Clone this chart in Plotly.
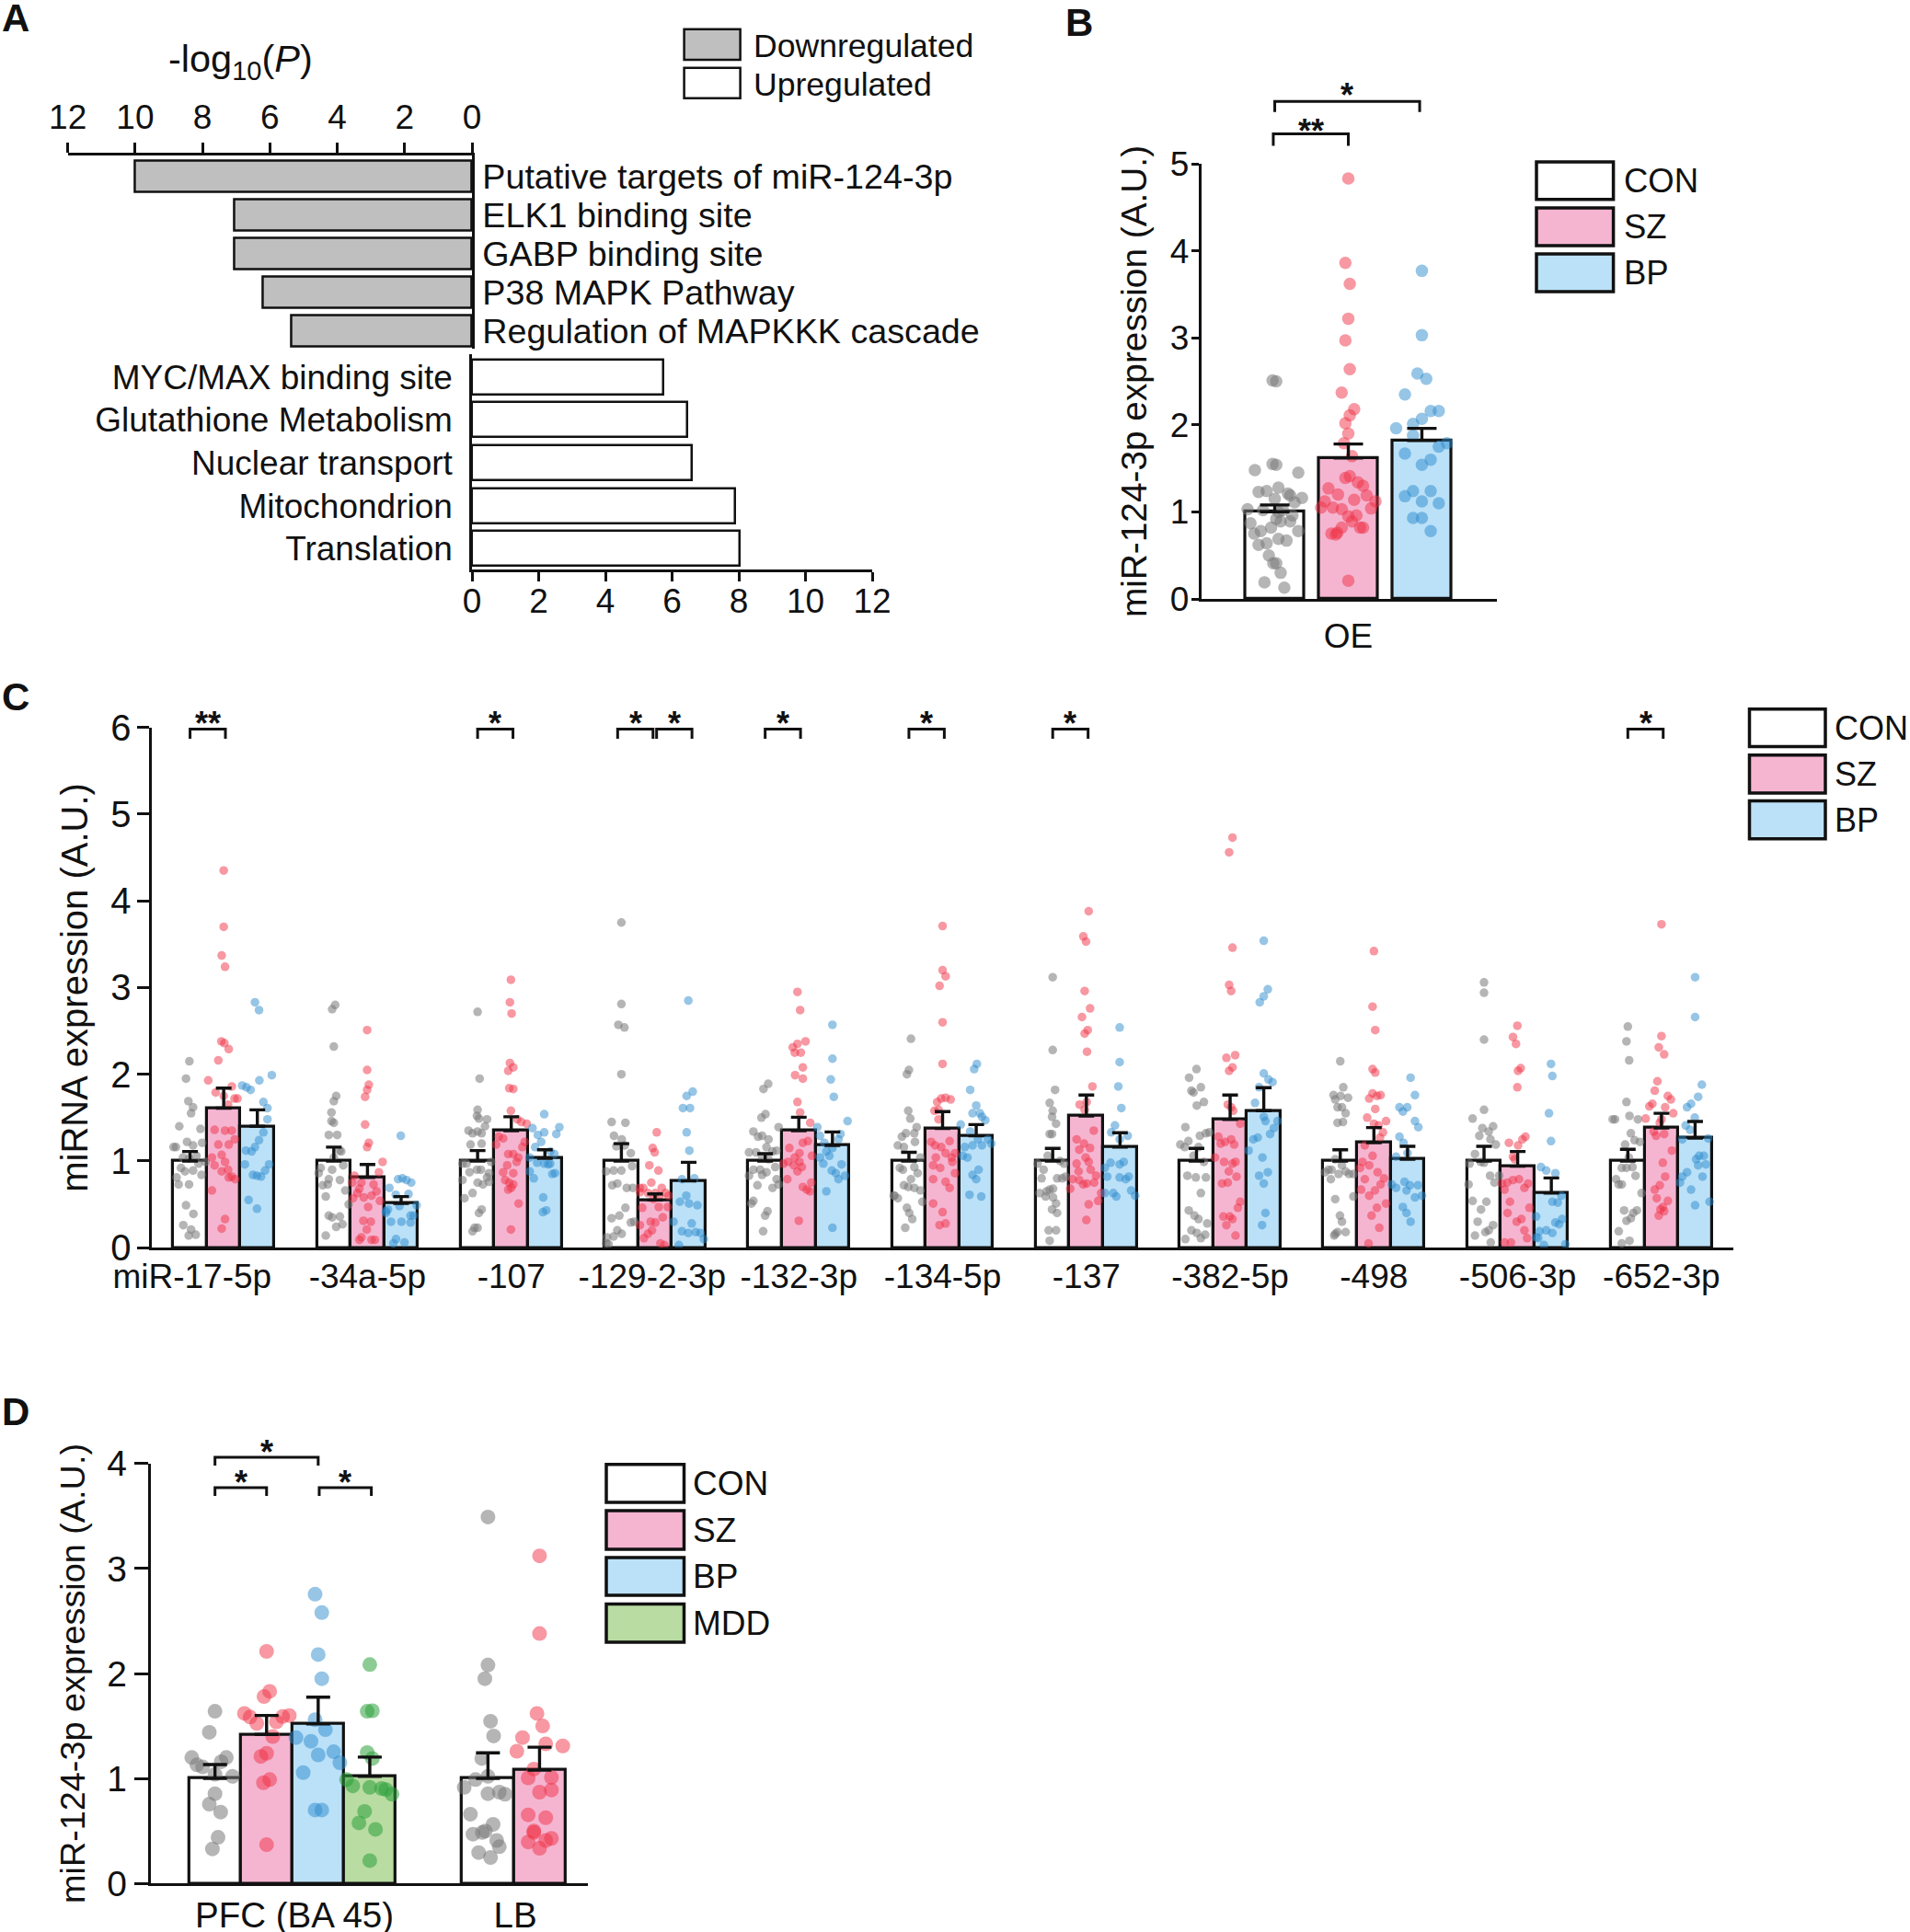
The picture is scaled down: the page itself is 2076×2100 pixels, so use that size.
import plotly.graph_objects as go

W, H = 2076, 2100
FONT = "Liberation Sans"
INK = "#111111"
FILL = {"CON": "#ffffff", "SZ": "#f5b5d1", "BP": "#bbe1f8", "MDD": "#b8dca2"}
DOT = {"CON": "rgba(120,120,120,0.55)", "SZ": "rgba(240,50,70,0.50)",
       "BP": "rgba(45,140,205,0.50)", "MDD": "rgba(45,160,60,0.55)"}

# ---------- Panel A ----------
A_DOWN_TERMS = ["Putative targets of miR-124-3p", "ELK1 binding site", "GABP binding site",
                "P38 MAPK Pathway", "Regulation of MAPKKK cascade"]
A_DOWN_VALUES = [10.0, 7.05, 7.05, 6.2, 5.35]
A_UP_TERMS = ["MYC/MAX binding site", "Glutathione Metabolism", "Nuclear transport",
              "Mitochondrion", "Translation"]
A_UP_VALUES = [5.75, 6.45, 6.6, 7.9, 8.03]

# ---------- Panel B ----------
B_MEAN = [1.0, 1.62, 1.82]
B_ERR_TOP = [1.08, 1.78, 1.96]
B_CON_Y = [2.51,2.50,1.48,1.55,1.54,1.45,1.23,1.24,1.28,1.21,1.19,1.16,1.11,1.15,1.03,1.02,1.02,1.0,.96,.92,.89,.89,.87,.82,.78,.75,.78,.69,.67,.62,.64,.50,.41,.41,.30,.19,.13]
B_CON_DX = [-.03,.02,-.27,-.03,.02,.32,-.22,-.11,.05,.18,.21,.37,.27,0,-.37,-.16,.11,.05,.24,.02,.08,.21,-.33,-.05,-.19,-.28,.32,.05,.16,-.22,-.11,-.08,-.02,.02,.08,-.14,.13]
B_SZ_Y = [4.83,3.86,3.62,3.22,2.97,2.64,2.37,2.18,2.11,2.02,1.90,1.79,1.64,1.41,1.39,1.34,1.30,1.27,1.20,1.19,1.12,1.14,1.12,1.05,1.05,1.03,1.04,.96,.95,.89,.82,.82,.82,.76,.75,.74,.21]
B_SZ_DX = [0,-.04,.02,0,-.04,.02,-.09,.08,.02,-.04,0,-.06,.05,.02,-.04,.13,.2,-.27,-.14,.25,-.32,.08,.37,-.37,-.21,-.09,.31,.11,0,.05,.2,.16,-.09,-.15,-.23,-.17,0]
B_BP_Y = [3.77,3.03,2.59,2.53,2.35,2.16,2.16,2.07,2.01,1.96,1.88,1.79,1.75,1.67,1.60,1.54,1.24,1.24,1.18,1.12,1.10,.93,.93,.78]
B_BP_DX = [0,0,-.06,.06,-.23,.12,.23,0,-.12,-.35,-.12,.34,.23,-.23,.12,0,-.12,.12,-.23,0,.23,-.12,0,.12]

# ---------- Panel C ----------
C_LABELS = ["miR-17-5p", "-34a-5p", "-107", "-129-2-3p", "-132-3p", "-134-5p", "-137",
            "-382-5p", "-498", "-506-3p", "-652-3p"]
C_MEAN_CON = [1, 1, 1, 1, 1, 1, 1, 1, 1, 1, 1]
C_TOP_CON = [1.11, 1.16, 1.12, 1.20, 1.085, 1.10, 1.145, 1.145, 1.13, 1.17, 1.135]
C_MEAN_SZ = [1.61, .81, 1.35, .55, 1.35, 1.375, 1.52, 1.48, 1.21, .94, 1.38]
C_TOP_SZ = [1.84, .96, 1.51, .62, 1.505, 1.57, 1.76, 1.76, 1.385, 1.11, 1.55]
C_MEAN_BP = [1.40, .51, 1.03, .77, 1.18, 1.29, 1.16, 1.58, 1.02, .63, 1.265]
C_TOP_BP = [1.59, .59, 1.13, .985, 1.335, 1.42, 1.325, 1.845, 1.17, .805, 1.455]

C_CON_Y = [
 [2.15,1.95,1.69,1.62,1.55,1.40,1.37,1.22,1.16,1.16,1.18,1.21,1.04,1.03,.97,.89,.84,.81,.73,.73,.49,.39,.26,.21,.14,.15,.88,1.06,.92,.99],
 [2.80,2.75,2.32,1.75,1.69,1.56,1.46,1.44,1.30,1.30,1.12,1.11,1.04,.95,.90,.86,.79,.78,.66,.72,.73,.59,.50,.37,.35,.36,.27,.24,.14,.92],
 [2.72,1.95,1.59,1.52,1.48,1.49,1.40,1.35,1.32,1.34,1.32,1.19,1.20,.97,.90,.90,.87,.86,.81,.78,.75,.73,.76,.63,.57,.44,.40,.23,.23,.19,.97,.99],
 [3.75,2.81,2.57,2.54,2.0,1.45,1.44,1.29,1.25,1.18,1.17,1.09,.89,.89,.94,.74,.72,.69,.69,.46,.34,.37,.29,.30,.20,.16,.13,.12,.05,.04,.88],
 [1.89,1.83,1.54,1.50,1.39,1.34,1.28,1.29,1.25,1.16,1.10,1.10,1.11,1.12,1.04,1.02,.93,.90,.90,.83,.84,.87,.79,.72,.69,.73,.54,.51,.42,.37,.19],
 [2.41,2.05,2.0,1.58,1.49,1.39,1.32,1.28,1.32,1.18,1.22,1.16,1.04,.92,.90,.93,.86,.79,.72,.70,.69,.66,.60,.57,.53,.46,.40,.33,.23,.60],
 [3.12,2.28,1.82,1.67,1.58,1.51,1.43,1.31,1.31,.97,.90,1.0,.97,.80,.82,.80,.80,.67,.68,.65,.63,.59,.58,.51,.44,.40,.20,.20,.08,1.06],
 [2.06,1.96,1.85,1.81,1.79,1.68,1.64,1.39,1.29,1.32,1.23,1.19,1.16,1.16,1.06,1.33,.99,.81,.63,.43,.37,.33,.28,.15,.20,.17,.11,.10,.81,.83],
 [2.15,1.85,1.76,1.75,1.73,1.71,1.62,1.62,1.55,1.45,1.44,.90,1.02,.95,.87,.79,.85,.85,.85,.59,.56,.37,.30,.18,.14,.18,.90,.88,.16],
 [3.06,2.94,2.40,1.59,1.49,1.40,1.38,1.34,1.29,1.25,1.19,1.08,.97,.99,.98,.83,.83,.75,.73,.54,.53,.44,.30,.26,.20,.18,.14,.06],
 [2.55,2.38,2.16,1.68,1.52,1.48,1.48,1.48,1.32,1.19,1.24,1.22,1.04,.92,.93,.92,.83,.79,.73,.73,.63,.43,.40,.43,.34,.31,.19,.08,.05],
]
C_CON_DX = [
 [-.02,-.12,-.05,.09,.03,-.32,.31,-.09,-.42,-.49,.09,.36,-.21,-.03,.25,.09,.34,-.4,-.34,-.03,-.12,.1,-.2,.03,-.04,.17,-.15,.19,-.27,.46],
 [.04,-.05,0,.07,0,-.07,-.07,0,-.15,.1,.17,.22,0,.28,-.05,-.45,-.15,.18,.34,-.33,-.18,-.24,.44,-.15,-.05,.18,.26,.07,-.24,-.39],
 [0,.06,0,-.02,.28,.04,.22,-.27,-.15,0,.12,-.21,.12,-.33,-.02,.1,-.24,.34,.28,-.45,0,.16,.34,-.15,-.39,.12,.04,-.09,0,-.15,-.45,.4],
 [0,0,-.09,.09,0,-.29,.12,-.22,.01,.1,-.15,.28,-.23,0,.32,-.12,-.27,.16,.34,.12,-.29,-.06,.28,.38,-.12,.01,-.23,-.43,-.45,-.38,-.45],
 [.09,-.05,.01,-.11,.4,-.35,-.21,-.09,.1,.04,-.48,-.27,.22,.34,-.09,.1,.3,-.15,-.35,-.48,-.09,.04,.34,-.23,.22,.4,-.35,-.41,.07,0,-.06],
 [.06,0,-.06,-.02,.04,.23,-.09,-.21,.16,-.33,.18,-.15,.34,-.27,-.18,.16,.26,.06,-.15,-.02,.16,.34,-.43,-.33,.4,-.06,.01,.1,-.11,-.45],
 [0,0,.07,-.09,0,-.02,.1,-.09,-.02,.34,-.27,.22,-.45,.28,.38,-.33,.13,-.09,.01,-.18,-.39,-.21,.01,.1,-.02,.13,-.12,.1,-.09,-.15],
 [0,-.22,.13,-.15,-.09,.22,.01,-.33,.1,.28,-.24,-.48,-.35,.06,-.09,.38,.22,-.02,.13,-.23,-.06,.06,.32,.26,-.15,.01,.13,-.33,.28,-.27],
 [0,.09,-.2,.01,.23,-.15,-.08,.05,.16,.08,-.08,-.35,-.15,.05,-.45,-.28,-.05,.26,.39,.39,-.15,-.01,.05,-.08,-.18,.16,-.26,.16,-.15],
 [0,0,0,0,-.34,.27,-.05,.14,-.14,.19,.35,-.27,-.43,-.1,0,.18,.45,.31,-.46,-.34,.07,-.09,-.19,.27,.14,.04,-.27,.2],
 [0,-.04,.04,-.04,.05,-.38,-.45,.3,.09,-.08,.2,.36,.03,-.04,.14,-.18,.23,-.35,-.18,-.27,.41,.27,.16,-.11,.09,-.04,-.27,.05,-.18],
]
C_SZ_Y = [
 [4.35,3.70,3.37,3.24,2.38,2.36,2.29,2.16,1.93,1.86,1.79,1.75,1.72,1.72,1.65,1.36,1.35,1.35,1.25,1.19,1.19,1.04,1.07,.99,.95,.90,.88,.81,.82,.79,.66,.33,.22],
 [2.51,2.05,1.88,1.82,1.74,1.42,1.21,1.16,.99,.87,.83,.75,.75,.73,.65,.68,.63,.58,.60,.54,.57,.47,.31,.30,.21,.12,.09,.09,.09],
 [3.09,2.83,2.70,2.13,2.08,2.04,1.84,1.83,1.58,1.48,1.45,1.43,1.28,1.26,1.19,1.22,1.16,1.08,1.08,1.04,.95,.99,.87,.86,.78,.75,.73,.69,.67,.51,.21],
 [1.33,1.15,1.10,.95,.89,.75,.69,.69,.69,.63,.63,.63,.64,.60,.46,.47,.47,.35,.30,.29,.26,.20,.16,.11,.05,.03,.60,.56],
 [2.95,2.74,2.38,2.35,2.31,2.25,2.25,2.08,1.99,1.95,1.68,1.56,1.44,1.23,1.21,1.09,1.15,1.04,.99,.97,.99,.95,.88,.93,.79,1.06,.75,.70,.67,.65,.31],
 [3.71,3.20,3.13,3.02,2.60,2.12,1.73,1.71,1.72,1.68,1.58,1.59,1.48,1.22,1.18,1.23,1.16,1.09,1.09,.95,.92,1.04,.99,.86,.79,.76,.69,.51,.41,.26,.28,1.04],
 [3.88,3.59,3.53,2.96,2.76,2.66,2.51,2.47,2.26,1.86,1.65,1.68,1.59,1.35,1.20,1.13,1.15,1.04,.97,.99,.88,.90,.83,.75,.79,.78,.73,.74,.68,.63,.54,.50,.32,1.25],
 [4.73,4.56,3.46,3.03,2.96,2.22,2.19,2.08,2.04,1.65,1.58,1.62,1.43,1.28,1.25,1.22,1.19,1.20,1.04,.99,.97,.99,.88,.82,.74,.75,.53,.46,.36,.36,.33,.26,.14],
 [3.42,2.78,2.51,2.06,2.02,1.78,1.75,1.76,1.72,1.60,1.50,1.46,1.43,1.41,1.33,1.27,1.18,1.06,.99,.95,.92,.87,.79,.80,.73,.67,.66,.60,.51,.46,.37,.23,.05],
 [2.56,2.43,2.35,2.07,2.04,1.85,1.28,1.25,1.21,1.18,1.05,.79,.78,.75,.74,.69,.74,.67,.53,.46,.40,.33,.30,.20,.11,.06,.06,1.02],
 [3.73,2.44,2.31,2.23,1.92,1.81,1.75,1.71,1.66,1.63,1.62,1.55,1.49,1.48,1.44,1.34,1.31,1.29,1.12,.98,.82,.72,.67,.57,.54,.47,.44,.42,.37],
]
C_SZ_DX = [
 [0,0,-.06,.04,-.07,.02,.15,-.16,-.46,.24,-.24,0,.32,.41,.13,-.27,.04,.24,.33,-.16,.15,-.35,-.06,.04,-.27,.13,-.06,.15,.24,.34,-.35,.04,-.06],
 [-.01,-.01,.04,-.01,-.07,-.07,.04,-.01,.45,.34,-.39,-.45,-.18,.18,.27,-.24,-.3,-.11,.12,.37,-.43,.02,-.12,.1,-.02,-.18,.12,.22,-.24],
 [-.01,-.04,.01,-.04,.06,-.09,-.06,.06,-.01,.18,.3,.46,-.37,-.24,-.45,.4,.33,-.09,.06,.21,-.12,.16,-.24,.06,-.18,-.06,.06,0,-.09,.22,-.01],
 [.05,-.07,-.01,-.17,.1,-.11,-.45,-.35,.2,-.21,.01,.32,-.45,.13,-.38,.11,.38,.23,-.13,.01,-.45,-.09,-.21,-.33,.16,.28,.4,-.05],
 [-.04,.04,.2,-.04,-.18,-.12,.06,.12,-.11,.12,-.04,.04,.34,.27,.12,.02,-.28,-.12,-.32,-.46,.02,-.15,-.04,.09,-.34,.39,.37,.12,.24,.33,0],
 [0,0,.09,-.09,0,0,.09,.24,-.04,-.16,-.24,-.12,-.12,-.34,-.22,.21,-.04,.09,.37,-.28,-.07,.27,.29,.37,-.28,.09,.21,-.28,0,-.09,.09,-.2],
 [.07,-.09,-.01,-.05,.11,-.13,.04,-.05,.02,.18,-.2,.01,-.05,.22,-.07,-.21,.11,-.02,-.29,.07,-.23,.13,.29,.23,-.41,-.21,-.09,.01,-.48,.44,.35,.07,0,-.29],
 [.07,-.03,.07,-.03,.03,.15,-.11,.07,-.03,-.07,.09,.03,.3,-.35,.03,-.15,.12,-.28,-.45,-.18,.07,.16,-.04,.19,-.24,-.07,.3,.23,-.2,-.01,.07,-.11,.16],
 [0,-.04,.04,-.04,.04,-.04,.09,.2,-.14,.04,-.2,.36,0,.14,.27,.18,-.27,-.04,-.34,-.14,-.41,.11,-.27,.3,.2,-.38,.03,-.14,.36,.09,-.07,.16,-.16],
 [-.01,-.14,-.05,.09,.01,-.01,.23,.14,-.26,.01,-.14,.04,-.14,-.31,.31,.2,-.47,-.39,-.23,.35,-.3,.11,-.03,.2,.28,-.39,-.2,-.09],
 [0,0,-.08,.08,-.12,-.2,.19,.28,-.27,-.36,.11,.35,-.47,0,-.05,-.23,.08,-.16,.31,.04,.11,-.05,-.2,-.14,.19,.04,-.03,.08,-.08],
]
C_BP_Y = [
 [2.83,2.74,1.99,1.93,1.87,1.85,1.82,1.68,1.61,1.48,1.33,1.24,1.16,1.12,1.11,.96,.96,.89,.84,.83,.82,.55,.45],
 [1.29,.69,.79,.80,.78,.75,.62,.61,.44,.40,.48,.49,.37,.30,.30,.29,.10,.05,.06,.42,.37],
 [1.54,1.39,1.38,1.31,1.33,1.30,1.22,1.16,1.11,1.08,1.04,.98,.97,.97,.96,.88,.86,.85,.80,.58,.43,.41],
 [2.85,1.80,1.75,1.61,1.61,1.33,1.12,.80,.79,.60,.53,.51,.49,.30,.28,.19,.18,.17,.17,.10,.03],
 [2.57,2.18,1.94,1.74,1.46,1.39,1.31,1.29,1.21,1.15,1.25,1.11,1.06,.97,.96,.89,.86,.83,.79,.65,.23,1.04],
 [2.12,2.06,1.82,1.64,1.55,1.55,1.47,1.42,1.51,1.34,1.25,1.25,1.20,1.16,1.18,1.18,1.06,1.04,.90,.84,.79,.61,.59],
 [2.54,2.14,1.86,1.61,1.41,1.33,1.29,1.25,.99,.98,.96,.92,.82,.82,.79,.81,.66,.60,.63,.59,.63],
 [3.54,2.98,2.90,2.83,2.01,1.94,1.91,1.85,1.67,1.51,1.46,1.46,1.38,1.31,1.27,1.25,1.12,1.04,.87,.83,.74,.40,.26],
 [1.96,1.76,1.62,1.62,1.57,1.46,1.39,1.28,1.21,1.05,1.09,.76,.72,.72,.73,.69,.66,.60,.58,.47,.40,.30],
 [2.12,1.98,1.55,1.23,.93,.89,.86,.60,.53,.52,.33,.29,.27,.19,.20,.17,.36,.11,.03,.04,.12],
 [3.12,2.66,1.88,1.74,1.66,1.62,1.50,1.41,1.36,1.26,1.25,1.06,1.06,1.02,.96,.95,.82,.87,.82,.75,.67,.53,.49],
]
C_BP_DX = [
 [-.07,.05,.43,.06,-.45,-.32,-.2,.18,.3,.3,.18,.05,-.07,-.34,-.17,.35,-.37,.23,-.13,-.01,.11,-.26,-.01],
 [-.01,-.35,-.09,.04,.16,.3,.22,-.16,-.39,-.45,-.05,.46,.37,.01,-.3,.28,-.15,-.23,.1,-.45,.28],
 [-.02,.43,-.37,.34,-.02,-.21,-.11,-.29,.16,.28,-.45,-.23,-.02,.16,.1,-.45,.3,.22,-.33,-.05,.04,-.06],
 [-.01,.12,-.06,.04,-.17,-.06,.02,.17,-.2,-.07,-.26,.01,.26,-.45,.09,-.2,.21,-.01,.35,.45,-.29],
 [0,0,-.05,.04,.45,-.45,.24,-.37,-.24,0,.18,-.18,-.09,-.27,.27,-.02,.1,.37,.18,-.18,0,-.37],
 [.02,-.06,-.18,0,-.11,.11,.27,-.46,.17,-.18,.05,.35,.45,-.34,-.11,.17,-.4,-.26,.07,-.11,0,-.2,.15],
 [-.01,-.01,-.05,.04,-.15,-.26,.23,-.01,.11,-.28,-.01,-.45,-.38,.26,.17,-.01,.33,.45,-.2,-.11,-.45],
 [0,.12,0,-.12,0,.14,.26,-.14,-.26,0,.05,.41,.3,.19,-.18,-.31,-.45,-.04,.12,-.14,0,.05,-.05],
 [.09,.22,-.24,-.01,-.14,.22,.32,-.24,-.12,-.34,0,-.09,.31,.07,-.47,-.34,-.03,.43,.22,-.14,-.03,.09],
 [-.01,.03,-.07,-.01,-.31,-.15,.12,.3,.03,.19,.32,.12,.23,-.35,-.15,.03,-.45,-.39,-.22,.42,-.45],
 [0,0,.2,.09,-.12,-.24,-.01,-.28,-.15,.39,-.38,.12,.26,.03,.32,.09,.22,-.24,-.38,-.45,-.12,.43,0],
]
# group index, left end, right end (in group units), stars
C_BRACKETS = [(0, -.234, .012, "**"), (2, -.234, .012, "*"), (3, -.26, -.014, "*"), (3, .011, .257, "*"),
              (4, -.234, .012, "*"), (5, -.234, .012, "*"), (6, -.234, .012, "*"), (10, -.234, .012, "*")]

# ---------- Panel D ----------
D_MEAN = [1.0, 1.42, 1.52, 1.02, 1.0, 1.08]
D_ERR_TOP = [1.133, 1.60, 1.775, 1.204, 1.244, 1.298]
D_GROUPS = ["CON", "SZ", "BP", "MDD", "CON", "SZ"]
D_Y = [
 [1.64,1.44,1.20,1.13,1.11,1.20,1.16,1.04,1.02,.855,.755,.68,.44,.33],
 [2.21,1.83,1.78,1.62,1.60,1.59,1.585,1.54,1.525,1.40,1.24,1.21,.99,.96,.37],
 [2.755,2.58,2.18,1.95,1.56,1.465,1.39,1.355,1.255,1.225,1.15,1.056,.70,.70],
 [2.085,1.64,1.645,1.247,1.19,.99,.93,.915,.905,.895,.85,.687,.577,.516,.218],
 [3.49,2.08,1.95,1.545,1.405,1.19,1.02,.99,.915,.855,.87,.85,.66,.563,.47,.486,.50,.41,.35,.295,.248],
 [3.12,2.38,1.62,1.50,1.39,1.33,1.31,1.26,1.09,1.006,1.01,.87,.89,.654,.627,.50,.486,.43,.41,.395,.335],
]
D_DX = [
 [0,-.11,-.45,-.35,-.24,.22,.12,0,.34,0,-.11,.11,.06,-.05],
 [0,.06,-.05,-.43,.44,.31,-.32,.19,-.19,.12,0,-.11,.06,-.06,0],
 [-.06,.07,0,.07,-.06,.14,-.43,-.14,.3,0,.42,-.29,-.06,.07],
 [0,-.05,.05,-.05,.05,-.45,-.33,0,.23,.31,.43,-.1,-.21,.11,0],
 [0,0,-.06,.05,.11,-.12,0,-.24,-.46,0,.22,.33,-.34,.1,-.29,-.11,-.05,.17,.22,-.18,.05],
 [0,0,-.05,.06,-.33,.12,.45,-.44,-.11,-.22,.23,0,.23,-.22,.12,-.11,-.11,.23,.12,-.22,0],
]


def fx(a, b):
    return [a / W, b / W]


def fy(top, bottom):
    return [1 - bottom / H, 1 - top / H]


def tick_font(size=37):
    return dict(family=FONT, size=size, color=INK)


fig = go.Figure()
anns, shapes = [], []


def note(px, py, text, size=37, align="left", bold=False):
    anns.append(dict(x=px / W, y=1 - py / H, xref="paper", yref="paper", text=f"<b>{text}</b>" if bold else text,
                     showarrow=False, xanchor=align, yanchor="middle",
                     font=dict(family=FONT, size=size, color=INK), align=align))


def legend(x0, x1, rows, size=36.5, gap=9, lw=3.5, dy=0):
    for name, fill, top, bot in rows:
        shapes.append(dict(type="rect", xref="paper", yref="paper", x0=x0 / W, x1=x1 / W, y0=1 - bot / H, y1=1 - top / H,
                           fillcolor=fill, line=dict(color=INK, width=lw)))
        note(x1 + gap, (top + bot) / 2 + dy, name, size=size)


def bracket(xa, ya, x0, x1, ytop, ydrop, text, yshift=5):
    fig.add_trace(go.Scatter(x=[x0, x0, x1, x1], y=[ydrop, ytop, ytop, ydrop], mode="lines",
                             line=dict(color=INK, width=3), xaxis=xa, yaxis=ya, cliponaxis=False,
                             showlegend=False, hoverinfo="skip"))
    anns.append(dict(x=(x0 + x1) / 2, y=ytop, xref=xa, yref=ya, text=f"<b>{text}</b>", showarrow=False,
                     xanchor="center", yanchor="middle", yshift=yshift,
                     font=dict(family=FONT, size=36, color=INK)))


def strip(xa, ya, xs, ys, key, size):
    fig.add_trace(go.Scatter(x=xs, y=ys, mode="markers", xaxis=xa, yaxis=ya, cliponaxis=False, showlegend=False,
                             marker=dict(size=size, color=DOT[key], line=dict(width=0))))


def whisk(xa, ya, xs, tops, means, cap, color=INK):
    fig.add_trace(go.Scatter(x=xs, y=means, mode="markers", xaxis=xa, yaxis=ya, showlegend=False, hoverinfo="skip",
                             marker=dict(size=1, color="rgba(0,0,0,0)"),
                             error_y=dict(type="data", symmetric=False, array=[t - m for t, m in zip(tops, means)],
                                          arrayminus=[0] * len(xs), color=color, thickness=3.4, width=cap)))


# ===== Panel A =====
fig.add_trace(go.Bar(y=A_DOWN_TERMS, x=A_DOWN_VALUES, orientation="h", width=0.8, xaxis="x", yaxis="y",
                     marker=dict(color="#bfbfbf", line=dict(color=INK, width=2.5)), showlegend=False))
fig.add_trace(go.Bar(y=A_UP_TERMS, x=A_UP_VALUES, orientation="h", width=0.81, xaxis="x2", yaxis="y2",
                     marker=dict(color="#ffffff", line=dict(color=INK, width=2.5)), showlegend=False))

# ===== Panel B =====
B_X = [0, 1, 2]
fig.add_trace(go.Bar(x=B_X, y=B_MEAN, width=0.8, xaxis="x3", yaxis="y3", showlegend=False,
                     marker=dict(color=[FILL["CON"], FILL["SZ"], FILL["BP"]], line=dict(color=INK, width=3.2))))
for i, (key, ys, dxs) in enumerate([("CON", B_CON_Y, B_CON_DX), ("SZ", B_SZ_Y, B_SZ_DX), ("BP", B_BP_Y, B_BP_DX)]):
    strip("x3", "y3", [i + d for d in dxs], ys, key, 13.5)
whisk("x3", "y3", B_X, B_ERR_TOP, B_MEAN, 16)
bracket("x7", "y7", 0, 1.97, 5.717, 5.595, "*", yshift=7)
bracket("x7", "y7", -0.02, 1.0, 5.343, 5.207, "**", yshift=3)

# ===== Panel C =====
BW = 0.234
series = [("CON", -BW, C_MEAN_CON, C_TOP_CON, C_CON_Y, C_CON_DX),
          ("SZ", 0, C_MEAN_SZ, C_TOP_SZ, C_SZ_Y, C_SZ_DX),
          ("BP", BW, C_MEAN_BP, C_TOP_BP, C_BP_Y, C_BP_DX)]
for key, off, means, tops, ys, dxs in series:
    fig.add_trace(go.Bar(x=[g + off for g in range(11)], y=means, width=BW, xaxis="x4", yaxis="y4", showlegend=False,
                         marker=dict(color=FILL[key], line=dict(color=INK, width=3.2))))
for key, off, means, tops, ys, dxs in series:
    xs, vs = [], []
    for g in range(11):
        for d, v in zip(dxs[g], ys[g]):
            xs.append(g + off + d * BW)
            vs.append(v)
    strip("x4", "y4", xs, vs, key, 9.5)
for key, off, means, tops, ys, dxs in series:
    whisk("x4", "y4", [g + off for g in range(11)], tops, means, 8.5)
for g, a, b, star in C_BRACKETS:
    bracket("x4", "y4", g + a, g + b, 5.98, 5.87, star, yshift=6)

# ===== Panel D =====
D_X = [0, 1, 2, 3, 5.29, 6.29]
fig.add_trace(go.Bar(x=D_X, y=D_MEAN, width=1.0, xaxis="x5", yaxis="y5", showlegend=False,
                     marker=dict(color=[FILL[k] for k in D_GROUPS], line=dict(color=INK, width=3.2))))
for pos, key, ys, dxs in zip(D_X, D_GROUPS, D_Y, D_DX):
    strip("x5", "y5", [pos + d for d in dxs], ys, key, 16)
whisk("x5", "y5", D_X, D_ERR_TOP, D_MEAN, 13)
bracket("x6", "y6", 0, 2, 4.06, 3.98, "*", yshift=5)
bracket("x6", "y6", 0, 1, 3.77, 3.69, "*", yshift=5)
bracket("x6", "y6", 2.02, 3.03, 3.77, 3.69, "*", yshift=5)

# ===== Legends and labels =====
legend(743.6, 804.6, [("Downregulated", "#bfbfbf", 31.7, 65), ("Upregulated", "#ffffff", 73.7, 106.7)], size=35.6, gap=12, lw=2.5, dy=2)
legend(1670, 1753.6, [("CON", FILL["CON"], 176, 216.7), ("SZ", FILL["SZ"], 226, 267), ("BP", FILL["BP"], 276, 317)])
legend(1901.5, 1984, [("CON", FILL["CON"], 770.8, 811.6), ("SZ", FILL["SZ"], 820.7, 862), ("BP", FILL["BP"], 870.5, 911.7)], size=36, gap=8)
legend(659, 743.5, [("CON", FILL["CON"], 1591.8, 1633), ("SZ", FILL["SZ"], 1642, 1684),
                    ("BP", FILL["BP"], 1693, 1734), ("MDD", FILL["MDD"], 1743.4, 1785)], size=37, gap=7)
note(261.7, 67, "-log<sub>10</sub>(<i>P</i>)", size=41.5, align="center")
note(0, 20, "A", size=42, bold=True)
note(1156, 24.5, "B", size=42, bold=True)
note(0, 758, "C", size=42, bold=True)
note(0, 1534.5, "D", size=42, bold=True)


def num_axis(**kw):
    base = dict(showline=True, linecolor=INK, linewidth=3.2, showgrid=False, zeroline=False, ticks="outside",
                tickcolor=INK, tickwidth=3.2, tickfont=tick_font(), automargin=False)
    base.update(kw)
    return base


def hidden(**kw):
    return dict(visible=False, showgrid=False, zeroline=False, **kw)


def title(text, size, standoff):
    return dict(text=text, font=dict(family=FONT, size=size, color=INK), standoff=standoff)


C_TICKS = [-0.22, 1, 2, 2.98, 4, 5, 6, 7, 8, 9, 10]

fig.update_layout(
    width=W, height=H, autosize=False, margin=dict(l=0, r=0, t=0, b=0, pad=0),
    paper_bgcolor="white", plot_bgcolor="rgba(0,0,0,0)", barmode="overlay", bargap=0, showlegend=False,
    font=dict(family=FONT, size=37, color=INK), annotations=anns, shapes=shapes,
    # A top
    xaxis=num_axis(domain=fx(73.7, 513), range=[12, 0], side="top", anchor="y", dtick=2, tick0=0, ticklen=11,
                   linewidth=2.5, tickwidth=2.5, ticklabelstandoff=0),
    yaxis=num_axis(domain=fy(168.7, 379), range=[4.458, -0.549], type="category", side="right", anchor="x", ticks="",
                   linewidth=2.5, categoryorder="array", categoryarray=A_DOWN_TERMS, ticklabelstandoff=1,
                   tickmode="array", tickvals=A_DOWN_TERMS, ticktext=A_DOWN_TERMS, tickfont=tick_font(37.7)),
    # A bottom
    xaxis2=num_axis(domain=fx(513, 948), range=[0, 12], anchor="y2", dtick=2, tick0=0, ticklen=10.5,
                    linewidth=2.5, tickwidth=2.5, ticklabelstandoff=-11),
    yaxis2=num_axis(domain=fy(385, 619), range=[4.484, -0.527], type="category", anchor="x2", ticks="",
                    linewidth=2.5, categoryorder="array", categoryarray=A_UP_TERMS, ticklabelstandoff=11,
                    tickmode="array", tickvals=A_UP_TERMS, ticktext=A_UP_TERMS),
    # B
    xaxis3=num_axis(domain=fx(1305.6, 1627), range=[-1.0, 3.02], anchor="y3", ticks="", tickvals=[1], ticktext=["OE"],
                    ticklabelstandoff=5),
    yaxis3=num_axis(domain=fy(178, 651), range=[0, 5], anchor="x3", dtick=1, ticklen=7.7, ticklabelstandoff=-5,
                    title=title("miR-124-3p expression (A.U.)", 38.8, 14)),
    # C
    xaxis4=num_axis(domain=fx(165, 1884), range=[-0.5, 10.5], anchor="y4", ticks="",
                    tickvals=C_TICKS, ticktext=C_LABELS, ticklabelstandoff=-4, tickangle=0),
    yaxis4=num_axis(domain=fy(790.7, 1356.2), range=[0, 6], anchor="x4", dtick=1, ticklen=12.5, ticklabelstandoff=-1,
                    tickfont=tick_font(40), title=title("miRNA expression (A.U.)", 40, 13)),
    # D
    xaxis5=num_axis(domain=fx(163.9, 638.6), range=[-1.244, 7.22], anchor="y5", ticks="", tickfont=tick_font(38.5),
                    tickvals=[1.54, 5.82], ticktext=["PFC (BA 45)", "LB"], ticklabelstandoff=-2, tickangle=0),
    yaxis5=num_axis(domain=fy(1590.7, 2047.3), range=[0, 4], anchor="x5", dtick=1, ticklen=15, ticklabelstandoff=0,
                    tickfont=tick_font(39), title=title("miR-124-3p expression (A.U.)", 37.8, 13)),
    # hidden axes carrying the comparison brackets of D and B above their value ranges
    xaxis6=hidden(domain=fx(163.9, 638.6), range=[-1.244, 7.22], anchor="y6"),
    yaxis6=hidden(domain=fy(1500, 2047.3), range=[0, 4.795], anchor="x6"),
    xaxis7=hidden(domain=fx(1305.6, 1627), range=[-1.0, 3.02], anchor="y7"),
    yaxis7=hidden(domain=fy(60, 651), range=[0, 6.247], anchor="x7"),
)

fig.write_html("out.html", config={"displayModeBar": False},
               post_script="document.body.style.margin='0';document.body.style.overflow='hidden';")
